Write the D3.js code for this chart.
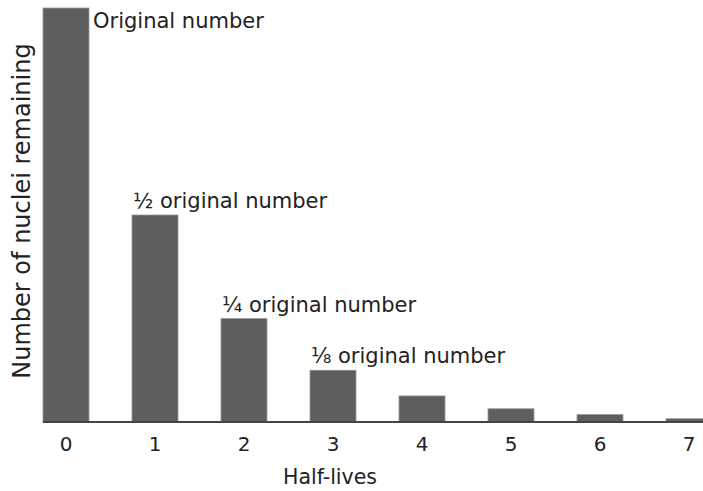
<!DOCTYPE html>
<html><head><meta charset="utf-8">
<script src="https://cdn.jsdelivr.net/npm/d3@7"></script>
<style>body{margin:0;background:#fff}svg{display:block}text{font-family:"DejaVu Sans",sans-serif;fill:#222}</style>
</head><body><svg id="c" width="703" height="491"></svg>
<script>
const halfLives = ["0","1","2","3","4","5","6","7"];
const remaining = [100, 50, 25, 12.5, 6.3, 3.2, 1.8, 0.8];
const barLabels = ["Original number", "½ original number", "¼ original number", "⅛ original number", "", "", "", ""];

const svg = d3.select("#c");
const W = 703, H = 491;
const baseY = 422, topY = 8;
const x = d3.scaleBand().domain(halfLives).range([21.5, 733.5]).paddingInner(0.483).paddingOuter(0.2415);
const y = d3.scaleLinear().domain([0, 100]).range([baseY, topY]);

// bars
svg.selectAll("rect.bar").data(halfLives).join("rect")
  .attr("class","bar")
  .attr("x", d => x(d))
  .attr("y", (d,i) => y(remaining[i]))
  .attr("width", x.bandwidth())
  .attr("height", (d,i) => y(0) - y(remaining[i]))
  .attr("fill", "#5e5e5e")
  .attr("stroke", "#9a9a9a").attr("stroke-width", 0.8);

// x axis
const xAxis = d3.axisBottom(x).tickSize(0).tickPadding(15);
const gx = svg.append("g").attr("transform", `translate(0,${y(0)})`).call(xAxis);
gx.select(".domain").remove();
gx.selectAll("text").attr("font-size", 20).attr("fill", "#222").attr("font-family", "DejaVu Sans");
svg.append("line").attr("x1", 43).attr("x2", W).attr("y1", y(0)).attr("y2", y(0))
  .attr("stroke", "#444").attr("stroke-width", 2);

// bar labels
svg.selectAll("text.lbl").data(halfLives.filter((d,i)=>barLabels[i])).join("text")
  .attr("class","lbl")
  .attr("x", (d,i) => i === 0 ? x(d) + x.bandwidth() + 4 : x(d) + 1)
  .attr("y", (d,i) => i === 0 ? 28 : y(remaining[i]) - 7)
  .attr("font-size", 21)
  .text((d,i) => barLabels[i]);

// axis titles
svg.append("text").attr("x", 330).attr("y", 484).attr("text-anchor", "middle").attr("font-size", 20.5).text("Half-lives");
svg.append("text").attr("transform", "translate(30,211) rotate(-90)").attr("text-anchor", "middle").attr("font-size", 24).text("Number of nuclei remaining");
</script></body></html>
